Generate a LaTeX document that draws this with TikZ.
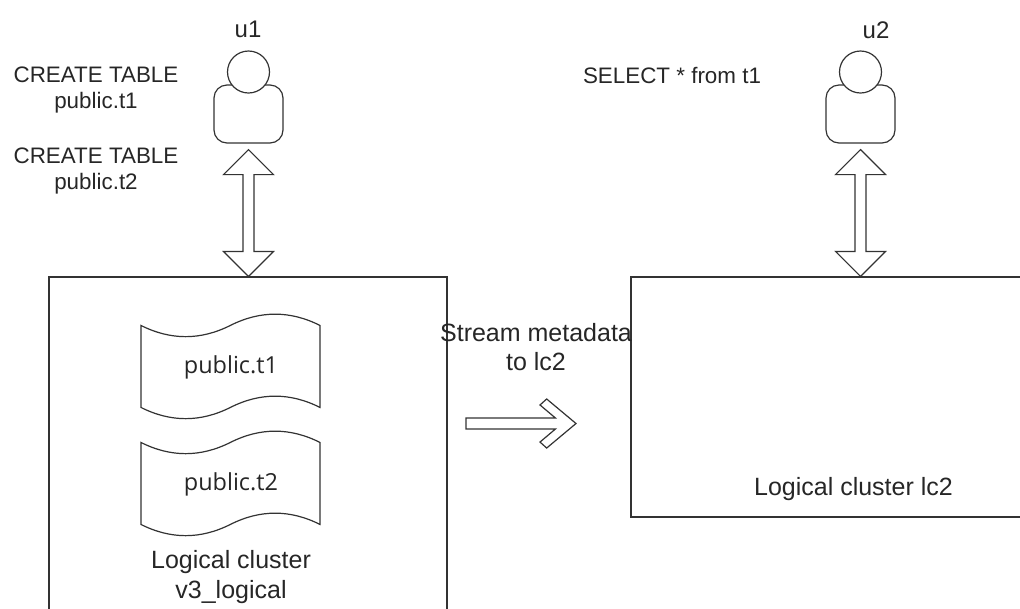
\documentclass[tikz,border=0pt]{standalone}
\usepackage{fontspec}
\setmainfont{Liberation Sans}
\newfontfamily\tapefont{Open Sans}
\usetikzlibrary{calc}

\definecolor{linec}{HTML}{333333}
\definecolor{txtc}{HTML}{262626}

% fat two-headed arrow, from top point to bottom point
\newcommand{\dblarrow}[2]{%
  \draw[fatarrow] let \p1=(#1), \p2=(#2) in
    (\x1,\y1) -- (\x1+18.75pt,\y1-18.75pt) -- (\x1+4.1pt,\y1-18.75pt)
    -- (\x1+4.1pt,\y2+18.75pt) -- (\x1+18.75pt,\y2+18.75pt) -- (\x1,\y2)
    -- (\x1-18.75pt,\y2+18.75pt) -- (\x1-4.1pt,\y2+18.75pt)
    -- (\x1-4.1pt,\y1-18.75pt) -- (\x1-18.75pt,\y1-18.75pt) -- cycle;}

\begin{document}
\begin{tikzpicture}[x=0.75pt,y=-0.75pt,line width=0.9pt,
  cluster/.style={draw=linec,rectangle,inner sep=0pt},
  userhead/.style={draw=linec,circle,fill=white,minimum size=31.5pt,inner sep=0pt},
  userbody/.style={draw=linec,rectangle,rounded corners=9.75pt,minimum width=51.75pt,minimum height=43.5pt,inner sep=0pt},
  tapenode/.style={rectangle,minimum width=134.25pt,minimum height=80.25pt,inner sep=0pt,text=txtc,font=\tapefont\fontsize{17.6}{21}\selectfont},
  tapeline/.style={draw=linec},
  fatarrow/.style={draw=linec,fill=white,line join=miter},
  lbl/.style={text=txtc,inner sep=0pt,align=center,font=\fontsize{16.8}{19.5}\selectfont},
  biglbl/.style={lbl,font=\fontsize{18.75}{21.9}\selectfont}]

  \useasboundingbox (0,0) rectangle (1020,608);
  \clip (0,0) rectangle (1020,608);

  % logical clusters
  \node[cluster,minimum width=298.5pt,minimum height=285pt] (lc1) at (248,467) {};
  \node[cluster,minimum width=333.75pt,minimum height=180pt] (lc2) at (853.5,397) {};

  % tables in lc1
  \node[tapenode] (t1) at (231,367) {public.t1};
  \node[tapenode] (t2) at (231,484) {public.t2};
  \foreach \tp in {t1,t2}
    \draw[tapeline,shift={(\tp.north west)}] (0,12.5)
      .. controls (29.8,27.5) and (59.7,27.5) .. (89.5,12.5)
      .. controls (119.3,-2.5) and (149.2,-2.5) .. (179,12.5) -- (179,94.5)
      .. controls (149.2,79.5) and (119.3,79.5) .. (89.5,94.5)
      .. controls (59.7,109.5) and (29.8,109.5) .. (0,94.5) -- cycle;

  % users
  \node[userbody] (u1body) at (248.5,114) {};
  \node[userhead] (u1head) at (248.5,72) {};
  \node[lbl,anchor=base,font=\fontsize{18}{21}\selectfont] (u1lbl) at (248,37) {u1};
  \node[userbody] (u2body) at (860.5,114) {};
  \node[userhead] (u2head) at (860.5,72) {};
  \node[lbl,anchor=base,font=\fontsize{18}{21}\selectfont] (u2lbl) at (876,38) {u2};

  % statements
  \node[lbl] (q1) at (96,89.5) {CREATE TABLE\\public.t1};
  \node[lbl] (q2) at (96,170.5) {CREATE TABLE\\public.t2};
  \node[lbl,anchor=base] (q3) at (672,83) {SELECT * from t1};

  % labels
  \node[biglbl] (streamlbl) at (536,347.4) {Stream metadata\\to lc2};
  \node[biglbl] (lc1lbl) at (231,577) {Logical cluster\\v3\_logical};
  \node[biglbl,anchor=base] (lc2lbl) at (853.5,495) {Logical cluster lc2};

  % arrows
  \dblarrow{[yshift=-4.5pt]u1body.south}{u1body.south |- lc1.north}
  \dblarrow{[yshift=-4.5pt]u2body.south}{u2body.south |- lc2.north}

  \coordinate (s0) at (466,423.5);
  \coordinate (s1) at (576,423.5);
  \draw[fatarrow] let \p1=(s0), \p2=(s1) in
    (\x1,\y1+4.1pt) -- (\x2-15.4pt,\y1+4.1pt) -- (\x2-27pt,\y2+13.9pt)
    -- (\x2-22pt,\y2+18.4pt) -- (\x2,\y2) -- (\x2-22pt,\y2-18.4pt)
    -- (\x2-27pt,\y2-13.9pt) -- (\x2-15.4pt,\y1-4.1pt) -- (\x1,\y1-4.1pt) -- cycle;
\end{tikzpicture}
\end{document}
